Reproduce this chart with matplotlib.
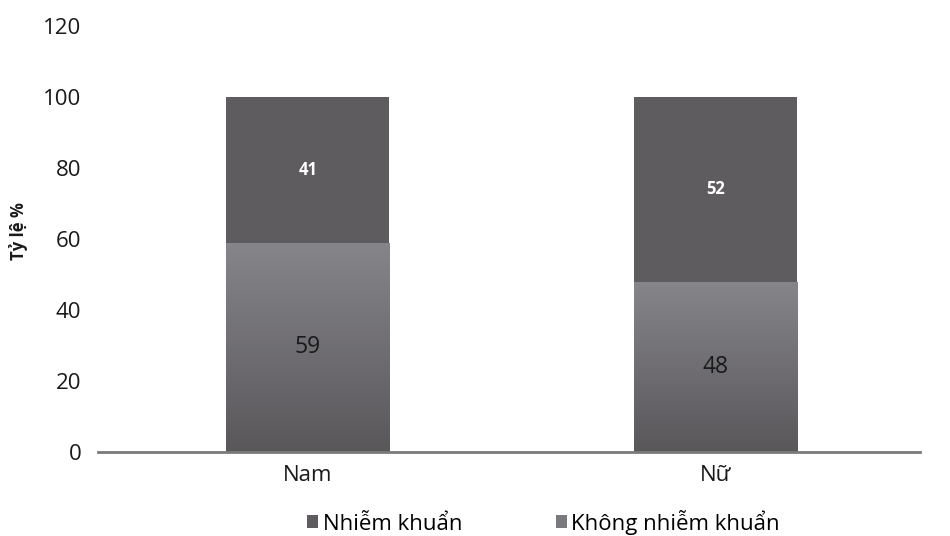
import matplotlib
matplotlib.use("Agg")
import matplotlib.pyplot as plt
import numpy as np
from matplotlib.colors import LinearSegmentedColormap

categories = ["Nam", "Nữ"]
nhiem_khuan = [41, 52]
khong_nhiem_khuan = [59, 48]
yticks = [0, 20, 40, 60, 80, 100, 120]

plt.rcParams['font.family'] = ['Open Sans', 'DejaVu Sans']

fig = plt.figure(figsize=(9.5, 5.36), dpi=100)
ax = fig.add_axes([0.103, 0.1567, 0.865, 0.7948])

x = np.arange(len(categories))
w = 0.4
dark = "#5e5c5e"
light = "#77767a"

b1 = ax.bar(x, khong_nhiem_khuan, w, color=light, label="Không nhiễm khuẩn", zorder=2)
b2 = ax.bar(x, nhiem_khuan, w, bottom=khong_nhiem_khuan, color=dark, label="Nhiễm khuẩn", zorder=2)

# gradient for the lower segments
cmap = LinearSegmentedColormap.from_list("g", ["#59575a", "#86858a"])
grad = np.linspace(0, 1, 256).reshape(-1, 1)
for rect in b1:
    x0, y0 = rect.get_x(), rect.get_y()
    im = ax.imshow(grad, cmap=cmap, origin="lower", aspect="auto",
                   extent=[x0, x0 + rect.get_width(), y0, y0 + rect.get_height()], zorder=2.5)
    im.set_clip_path(rect)

for i in range(len(categories)):
    ax.text(x[i], khong_nhiem_khuan[i] / 2, str(khong_nhiem_khuan[i]), ha="center", va="center",
            fontsize=16.5, color="#1a1a1a", zorder=4)
    ax.text(x[i], khong_nhiem_khuan[i] + nhiem_khuan[i] / 2, str(nhiem_khuan[i]), ha="center", va="center",
            fontsize=12, color="white", fontweight="bold", zorder=4)

ax.set_xlim(-0.515, 1.5)
ax.set_ylim(0, 120)
ax.set_yticks(yticks)
ax.set_yticklabels([str(v) for v in yticks], fontsize=16, color="#1a1a1a")
ax.set_xticks(x)
ax.set_xticklabels(categories, fontsize=16, color="#1a1a1a")
ax.tick_params(axis="both", length=0)
ax.tick_params(axis="y", pad=12)
ax.tick_params(axis="x", pad=9)
for s in ["top", "right", "left"]:
    ax.spines[s].set_visible(False)
ax.spines["bottom"].set_color("#7a7a7a")
ax.spines["bottom"].set_linewidth(2)
ax.spines["bottom"].set_zorder(5)

fig.text(19 / 950, 1 - 231 / 536, "Tỷ lệ %", rotation=90, ha="center", va="center",
         fontsize=12, fontweight="bold", color="#1a1a1a")

handles = [b2[0], b1[0]]
leg = fig.legend(handles, ["Nhiễm khuẩn", "Không nhiễm khuẩn"], loc="center",
                 bbox_to_anchor=(0.572, 0.026), ncol=2, frameon=False, fontsize=16,
                 handlelength=0.5, handleheight=0.5, handletextpad=0.2, columnspacing=4.2)
leg.legend_handles[1].set_facecolor("#7a797d")

fig.savefig("out.png", dpi=100)
